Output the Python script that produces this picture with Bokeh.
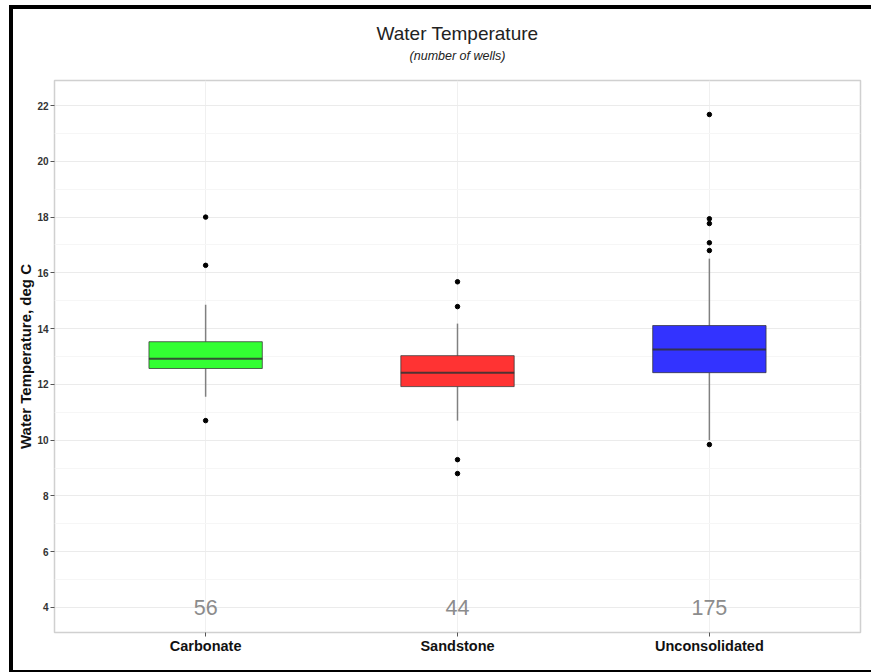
from bokeh.plotting import figure
from bokeh.layouts import column
from bokeh.models import Range1d, FixedTicker, ColumnDataSource, Title
from bokeh.core.properties import value
from bokeh.embed import file_html
from bokeh.resources import INLINE

# Box-plot summary of water temperature by aquifer type
categories = ["Carbonate", "Sandstone", "Unconsolidated"]
well_counts = [56, 44, 175]
q1 = [12.57, 11.92, 12.42]
median = [12.92, 12.42, 13.25]
q3 = [13.53, 13.03, 14.11]
whisker_low = [11.56, 10.70, 10.00]
whisker_high = [14.86, 14.18, 16.51]
box_colors = ["#33ff33", "#ff3333", "#3333ff"]

# Outlying wells (category index, temperature)
outlier_group = [1, 1, 1, 2, 2, 2, 2, 3, 3, 3, 3, 3, 3]
outlier_temp = [18.00, 16.27, 10.70,
                15.68, 14.79, 9.30, 8.80,
                21.68, 17.94, 17.77, 17.08, 16.80, 9.84]

y_ticks = [4, 6, 8, 10, 12, 14, 16, 18, 20, 22]
y_minor = [5, 7, 9, 11, 13, 15, 17, 19, 21]

FONT = "Liberation Sans"
BOX_W = 0.45
COUNT_Y = 4

xs = list(range(1, len(categories) + 1))
src = ColumnDataSource(dict(
    x=xs, q1=q1, med=median, q3=q3, lo=whisker_low, hi=whisker_high,
    color=box_colors, left=[x - BOX_W / 2 for x in xs], right=[x + BOX_W / 2 for x in xs],
    n=[str(c) for c in well_counts], ny=[COUNT_Y] * len(xs),
))

p = figure(width=858, height=661, output_backend="svg", toolbar_location=None,
           x_range=Range1d(0.4, 3.6), y_range=Range1d(3.1, 22.9),
           min_border_left=41, min_border_right=11, min_border_top=71, min_border_bottom=38)
p.background_fill_color = "white"
p.border_fill_color = "white"
p.outline_line_color = "#d0d0d0"
p.outline_line_width = 1.5

# titles
p.title.text = "Water Temperature"
p.title.align = "center"
p.title.text_font = FONT
p.title.text_font_style = "normal"
p.title.text_font_size = "19px"
p.title.text_color = "#222222"
p.title.standoff = 10
p.add_layout(Title(text="(number of wells)", align="center", vertical_align="top",
                   text_font=FONT, text_font_style="italic", text_font_size="12.5px",
                   text_color="#222222", standoff=0,
                   padding=dict(left=0, right=0, top=0, bottom=16)), "above")

# grid
p.xgrid.ticker = FixedTicker(ticks=xs)
p.xgrid.grid_line_color = "#f0f0f0"
p.ygrid.ticker = FixedTicker(ticks=y_ticks, minor_ticks=y_minor)
p.ygrid.grid_line_color = "#ebebeb"
p.ygrid.minor_grid_line_color = "#f6f6f6"

# axes
p.xaxis.ticker = FixedTicker(ticks=xs)
p.xaxis.major_label_overrides = {x: c for x, c in zip(xs, categories)}
p.yaxis.ticker = FixedTicker(ticks=y_ticks)
for ax in (p.xaxis, p.yaxis):
    ax.axis_line_color = None
    ax.major_tick_out = 4
    ax.major_tick_in = 0
    ax.major_tick_line_color = "#555555"
    ax.minor_tick_line_color = None
    ax.major_label_text_font = FONT
    ax.major_label_text_font_style = "bold"
p.xaxis.major_label_text_font_size = "14.5px"
p.xaxis.major_label_text_color = "#111111"
p.xaxis.major_label_standoff = 1
p.yaxis.major_label_text_font_size = "10px"
p.yaxis.major_label_text_color = "#333333"
p.yaxis.major_label_standoff = 2
p.yaxis.axis_label = "Water Temperature, deg C"
p.yaxis.axis_label_text_font = FONT
p.yaxis.axis_label_text_font_style = "bold"
p.yaxis.axis_label_text_font_size = "15px"
p.yaxis.axis_label_text_color = "#111111"
p.yaxis.axis_label_standoff = 0

# whiskers
p.segment(x0="x", x1="x", y0="q3", y1="hi", source=src, line_color="#808080", line_width=1.5)
p.segment(x0="x", x1="x", y0="lo", y1="q1", source=src, line_color="#808080", line_width=1.5)
# boxes
p.vbar(x="x", width=BOX_W, bottom="q1", top="q3", source=src, fill_color="color",
       line_color="#333333", line_alpha=0.75, line_width=1)
# medians
p.segment(x0="left", x1="right", y0="med", y1="med", source=src,
          line_color="#333333", line_alpha=0.85, line_width=2)
# outliers
p.scatter(x=outlier_group, y=outlier_temp, size=4.5, color="black")

# well counts
p.text(x="x", y="ny", text="n", source=src, text_align="center", text_baseline="middle",
       text_font=value(FONT), text_font_size="21.5px", text_color="#8c8c8c")

# page frame around the chart
page = column(p, styles={
    "margin-left": "9px", "margin-top": "5px",
    "border-top": "4px solid black", "border-left": "4px solid black",
    "border-bottom": "2px solid black",
    "box-sizing": "content-box", "overflow": "visible",
})

open("out.html", "w").write(file_html(page, INLINE))
